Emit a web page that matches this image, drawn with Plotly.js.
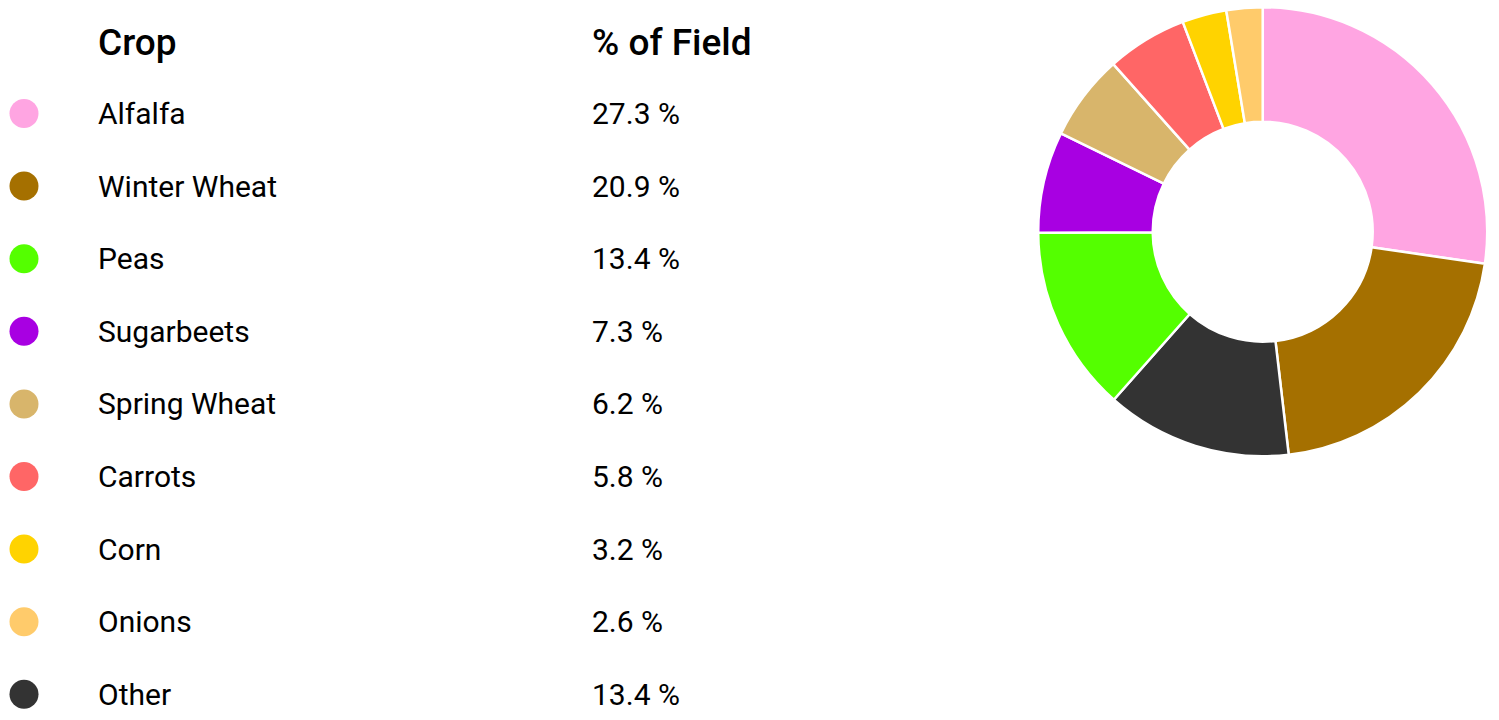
<!DOCTYPE html>
<html>
<head>
<meta charset="utf-8">
<script src="https://cdn.plot.ly/plotly-3.0.1.min.js"></script>
<style>
html,body{margin:0;padding:0;background:#fff;}
#chart{width:1499px;height:720px;}
</style>
</head>
<body>
<div id="chart"></div>
<script>
// Table / legend order
const crops = ["Alfalfa","Winter Wheat","Peas","Sugarbeets","Spring Wheat","Carrots","Corn","Onions","Other"];
const percents = [27.3, 20.9, 13.4, 7.3, 6.2, 5.8, 3.2, 2.6, 13.4];
const colors = ["#ffa5e2","#a57000","#54ff00","#a800e2","#d8b56b","#ff6666","#ffd300","#ffcb6b","#333333"];
const headers = ["Crop", "% of Field"];
// Donut slice order (clockwise from 12 o'clock)
const pieOrder = ["Alfalfa","Winter Wheat","Other","Peas","Sugarbeets","Spring Wheat","Carrots","Corn","Onions"];

const W = 1499, H = 720;
const rowTop = 113.5, rowStep = 72.6;
const idx = crops.map((c,i)=>i);

const pieVals = pieOrder.map(c => percents[crops.indexOf(c)]);
const pieCols = pieOrder.map(c => colors[crops.indexOf(c)]);

const cx = 1262.7, cy = 231.7, R = 224.5;

const traces = [
  {
    type: "scatter",
    mode: "markers",
    x: idx.map(()=>24),
    y: idx,
    marker: {size: 29, color: colors, line: {width: 0}},
    hoverinfo: "skip",
    xaxis: "x", yaxis: "y"
  },
  {
    type: "pie",
    labels: pieOrder,
    values: pieVals,
    marker: {colors: pieCols, line: {color: "#ffffff", width: 2.5}},
    hole: 0.49,
    sort: false,
    direction: "clockwise",
    rotation: 0,
    textinfo: "none",
    hoverinfo: "label+percent",
    domain: {x: [(cx - R)/W, (cx + R)/W], y: [1 - (cy + R)/H, 1 - (cy - R)/H]}
  }
];

const rowFont = {family: "Roboto, 'Open Sans', sans-serif", size: 30, color: "#000"};
const headFont = {family: "Roboto, 'Open Sans', sans-serif", size: 37, color: "#000", weight: 500};

const col1 = 96, col2 = 590;
const annotations = [];
headers.forEach((h, j) => {
  annotations.push({xref: "x", yref: "y", x: j === 0 ? col1 : col2, y: -0.98, text: h,
    showarrow: false, xanchor: "left", yanchor: "middle", font: headFont});
});
crops.forEach((c, i) => {
  annotations.push({xref: "x", yref: "y", x: col1, y: i, text: c, showarrow: false,
    xanchor: "left", yanchor: "middle", font: rowFont});
  annotations.push({xref: "x", yref: "y", x: col2, y: i, text: percents[i].toFixed(1) + " %", showarrow: false,
    xanchor: "left", yanchor: "middle", font: rowFont});
});

const xdom = 990 / W;
const layout = {
  width: W, height: H,
  margin: {l: 0, r: 0, t: 0, b: 0},
  paper_bgcolor: "#fff", plot_bgcolor: "rgba(0,0,0,0)",
  showlegend: false,
  xaxis: {domain: [0, xdom], range: [0, 990], visible: false, fixedrange: true},
  yaxis: {domain: [0, 1], range: [(H - rowTop)/rowStep, -rowTop/rowStep], visible: false, fixedrange: true},
  annotations: annotations
};

Plotly.newPlot("chart", traces, layout, {displayModeBar: false, staticPlot: true});
</script>
</body>
</html>
